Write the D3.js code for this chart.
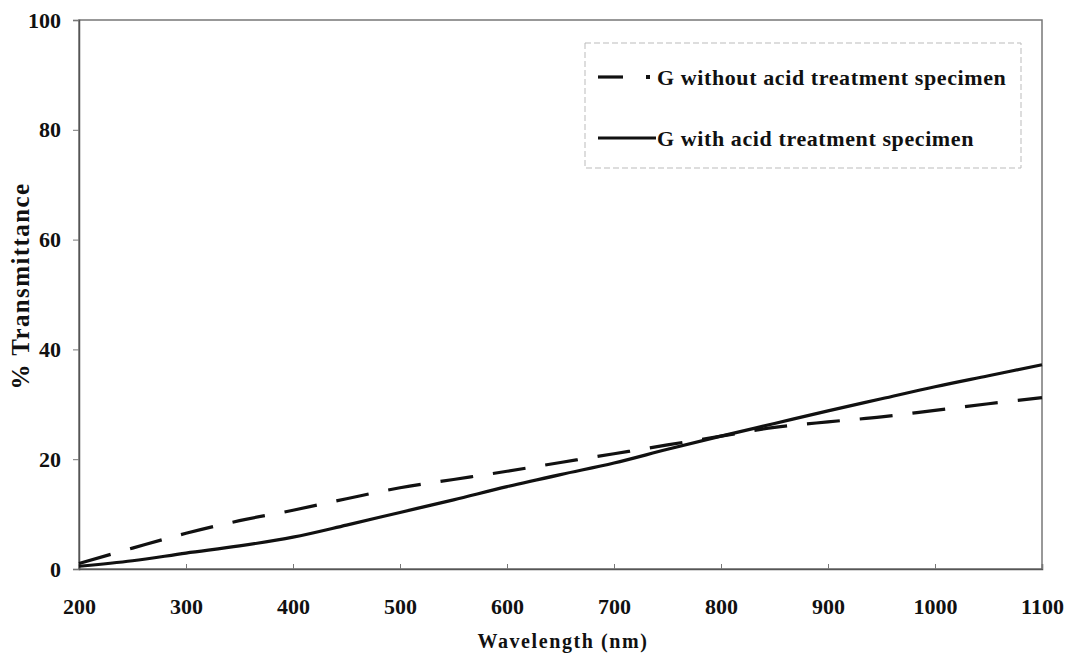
<!DOCTYPE html>
<html>
<head>
<meta charset="utf-8">
<script src="https://cdn.jsdelivr.net/npm/d3@7"></script>
<style>
  body { margin: 0; background: #fff; }
  svg { display: block; }
</style>
</head>
<body>
<div id="chart"></div>
<script>
// wavelength (nm)
const wavelength = [200, 250, 300, 350, 400, 450, 500, 550, 600, 650, 700, 750, 800, 850, 900, 950, 1000, 1050, 1100];
// % transmittance
const withoutAcid = [1.0, 3.8, 6.5, 8.8, 10.7, 12.8, 14.8, 16.3, 17.8, 19.4, 21.0, 22.6, 24.2, 25.8, 26.8, 27.7, 28.9, 30.1, 31.2];
const withAcid    = [0.5, 1.5, 2.9, 4.2, 5.8, 8.0, 10.3, 12.6, 15.0, 17.2, 19.3, 21.8, 24.2, 26.5, 28.8, 31.0, 33.2, 35.2, 37.2];
const xTicks = [200, 300, 400, 500, 600, 700, 800, 900, 1000, 1100];
const yTicks = [0, 20, 40, 60, 80, 100];
const seriesNames = ["G without acid treatment specimen", "G with acid treatment specimen"];

const width = 1073, height = 656;
const margin = {top: 20, right: 31, bottom: 87, left: 79};
const font = "'Liberation Serif', 'Times New Roman', serif";

const svg = d3.select("#chart").append("svg")
    .attr("width", width)
    .attr("height", height);

svg.append("rect")
    .attr("width", width)
    .attr("height", height)
    .attr("fill", "white");

const x = d3.scaleLinear()
    .domain([200, 1100])
    .range([margin.left, width - margin.right]);

const y = d3.scaleLinear()
    .domain([0, 100])
    .range([height - margin.bottom, margin.top]);

// frame
svg.append("rect")
    .attr("x", x(200))
    .attr("y", y(100))
    .attr("width", x(1100) - x(200))
    .attr("height", y(0) - y(100))
    .attr("fill", "none")
    .attr("stroke", "#777")
    .attr("stroke-width", 1.5);

// x axis
svg.append("g")
    .attr("transform", `translate(0,${y(0)})`)
    .call(d3.axisBottom(x).tickValues(xTicks).tickSize(-5).tickPadding(29).tickFormat(d3.format("d")))
    .call(g => g.select(".domain").attr("stroke", "#555").attr("stroke-width", 1.5))
    .call(g => g.selectAll(".tick line").attr("stroke", "#777"))
    .call(g => g.selectAll("text")
        .style("font", `bold 22px ${font}`)
        .attr("fill", "#111"));

// y axis
svg.append("g")
    .attr("transform", `translate(${x(200)},0)`)
    .call(d3.axisLeft(y).tickValues(yTicks).tickSize(6).tickPadding(12))
    .call(g => g.select(".domain").attr("stroke", "#555").attr("stroke-width", 1.5))
    .call(g => g.selectAll(".tick line").attr("stroke", "#777"))
    .call(g => g.selectAll("text")
        .style("font", `bold 22px ${font}`)
        .attr("fill", "#111"));

// axis titles
svg.append("text")
    .attr("x", 563)
    .attr("y", 648)
    .attr("text-anchor", "middle")
    .style("font", `bold 20px ${font}`)
    .style("letter-spacing", "1.6px")
    .attr("fill", "#111")
    .text("Wavelength (nm)");

svg.append("text")
    .attr("transform", `translate(29,286) rotate(-90)`)
    .attr("text-anchor", "middle")
    .style("font", `bold 25px ${font}`)
    .style("letter-spacing", "1.4px")
    .attr("fill", "#111")
    .text("% Transmittance");

// lines
const line = d3.line()
    .x(d => x(d[0]))
    .y(d => y(d[1]))
    .curve(d3.curveCatmullRom);

svg.append("path")
    .datum(wavelength.map((w, i) => [w, withoutAcid[i]]))
    .attr("d", line)
    .attr("fill", "none")
    .attr("stroke", "#111")
    .attr("stroke-width", 3.2)
    .attr("stroke-dasharray", "33,20");

svg.append("path")
    .datum(wavelength.map((w, i) => [w, withAcid[i]]))
    .attr("d", line)
    .attr("fill", "none")
    .attr("stroke", "#111")
    .attr("stroke-width", 3.2);

// legend
const legend = svg.append("g");

legend.append("rect")
    .attr("x", 585)
    .attr("y", 43)
    .attr("width", 436)
    .attr("height", 125)
    .attr("fill", "white")
    .attr("stroke", "#bbb")
    .attr("stroke-width", 1)
    .attr("stroke-dasharray", "6,3");

legend.append("line")
    .attr("x1", 598).attr("x2", 623)
    .attr("y1", 77).attr("y2", 77)
    .attr("stroke", "#111")
    .attr("stroke-width", 3.2);

legend.append("rect")
    .attr("x", 646).attr("y", 75)
    .attr("width", 4).attr("height", 4)
    .attr("fill", "#111");

legend.append("line")
    .attr("x1", 598).attr("x2", 656)
    .attr("y1", 138).attr("y2", 138)
    .attr("stroke", "#111")
    .attr("stroke-width", 3.2);

legend.selectAll("text.item")
    .data(seriesNames)
    .join("text")
    .attr("class", "item")
    .attr("x", 657)
    .attr("y", (d, i) => i === 0 ? 85 : 146)
    .style("font", `bold 22px ${font}`)
    .style("letter-spacing", "0.6px")
    .attr("fill", "#111")
    .text(d => d);
</script>
</body>
</html>
